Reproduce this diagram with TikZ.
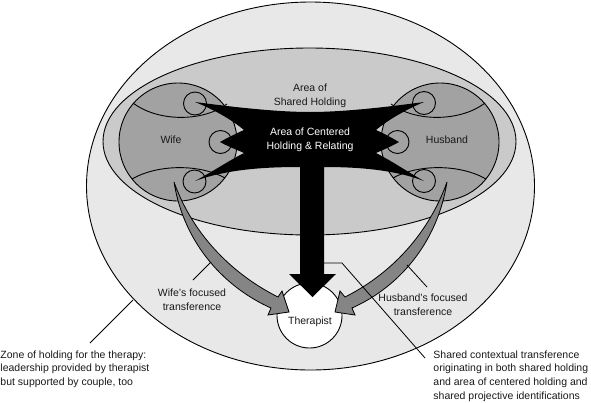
\documentclass[tikz,border=0pt]{standalone}
\usepackage{fontspec}
\setmainfont{Liberation Sans}
\usetikzlibrary{shapes.geometric}
\definecolor{outerg}{HTML}{E8E8E8}
\definecolor{midg}{HTML}{CACACA}
\definecolor{persong}{HTML}{A2A2A2}
\definecolor{arrowg}{HTML}{858585}
\begin{document}
\begin{tikzpicture}[x=1pt,y=-1pt,line width=0.9pt,
  lbl/.style={font=\fontsize{10.5}{13.6}\selectfont, inner sep=0pt, text=black!90, align=center},
  lblleft/.style={lbl, align=left, anchor=west},
  person/.style={circle, draw, fill=persong, minimum size=118pt, inner sep=0pt},
  smallc/.style={circle, draw, minimum size=23pt, inner sep=0pt},
  garrow/.style={draw, fill=arrowg, line width=0.8pt, line join=miter},
  leader/.style={draw, line width=0.8pt}]
\useasboundingbox (0,0) rectangle (591,402);

% outer zone
\node[ellipse, draw, fill=outerg, minimum width=448pt, minimum height=368pt, inner sep=0pt] (outer) at (310.5,186) {};
% shared holding
\node[ellipse, draw, fill=midg, minimum width=413pt, minimum height=187pt, inner sep=0pt] (shared) at (309.5,141.5) {};

% wife and husband
\node[person] (wife) at (178,142) {};
\node[person] (husband) at (440,142) {};
\draw (133,103) .. controls (158,122) and (203,122) .. (227,104);
\draw (132,179) .. controls (158,164) and (200,164) .. (225,178);
\draw (391,104) .. controls (415,122) and (460,122) .. (485,103);
\draw (393,178) .. controls (418,164) and (460,164) .. (486,179);

\node[smallc] (w1) at (195,103.5) {};
\node[smallc] (w2) at (220.5,142) {};
\node[smallc] (w3) at (194.5,181.5) {};
\node[smallc] (h1) at (424,103) {};
\node[smallc] (h2) at (397.5,142) {};
\node[smallc] (h3) at (424,181) {};

% therapist
\node[circle, draw, fill=white, minimum size=65pt, inner sep=0pt] (ther) at (309.5,315.5) {};

% black centered area + arrow
\fill[black] (310,112)
  .. controls (280,112) and (240,108) .. (195,102)
  .. controls (215,110) and (232,120) .. (244,130)
  .. controls (235,134) and (227,138) .. (220,142)
  .. controls (227,146) and (235,149) .. (244,153)
  .. controls (230,160) and (212,172) .. (195,181)
  .. controls (225,170) and (260,167) .. (300,167)
  -- (300,274) -- (289,274) -- (312.5,297) -- (336,274) -- (324,274) -- (324,167)
  .. controls (360,167) and (395,170) .. (424,181)
  .. controls (408,172) and (390,160) .. (376,153)
  .. controls (385,149) and (392,146) .. (399,142)
  .. controls (392,138) and (385,134) .. (376,130)
  .. controls (388,120) and (405,110) .. (424,102)
  .. controls (380,108) and (340,112) .. (310,112) -- cycle;

% grey focused transference arrows
\path[garrow] (174,182) .. controls (184,245) and (226,288) .. (271,308)
  -- (268,315) -- (289,312) -- (282,291) -- (278,297)
  .. controls (236,276) and (194,238) .. (174,182) -- cycle;
\path[garrow] (447,182) .. controls (437,245) and (397,288) .. (352,308)
  -- (355,315) -- (335,312) -- (340,291) -- (345,297)
  .. controls (387,276) and (427,238) .. (447,182) -- cycle;

% labels
\node[lbl] (sharedlbl) at (310,96) {Area of\\Shared Holding};
\node[lbl, text=white] (centerlbl) at (310,140) {Area of Centered\\Holding \& Relating};
\node[lbl] (wifelbl) at (171,140) {Wife};
\node[lbl] (husbandlbl) at (447,140) {Husband};
\node[lbl] (therlbl) at (310,322) {Therapist};
\node[lbl] (wifetr) at (192,300) {Wife's focused\\transference};
\node[lbl] (hustr) at (423,304.5) {Husband's focused\\transference};
\node[lblleft] (zonelbl) at (0,369) {Zone of holding for the therapy:\\leadership provided by therapist\\but supported by couple, too};
\node[lblleft] (ctxlbl) at (433,376) {Shared contextual transference\\originating in both shared holding\\and area of centered holding and\\shared projective identifications};

% leader lines
\coordinate (wA) at (193,280);
\coordinate (wB) at (211,262);
\coordinate (hA) at (407,265);
\coordinate (hB) at (427,287);
\coordinate (zA) at (90,343);
\coordinate (zB) at (133,300);
\coordinate (cA) at (324,263);
\coordinate (cB) at (342,263);
\coordinate (cC) at (425,358);
\path[leader] (wA) -- (wB);
\path[leader] (hA) -- (hB);
\path[leader] (zA) -- (zB);
\path[leader] (cA) -- (cB) -- (cC);
\end{tikzpicture}
\end{document}
